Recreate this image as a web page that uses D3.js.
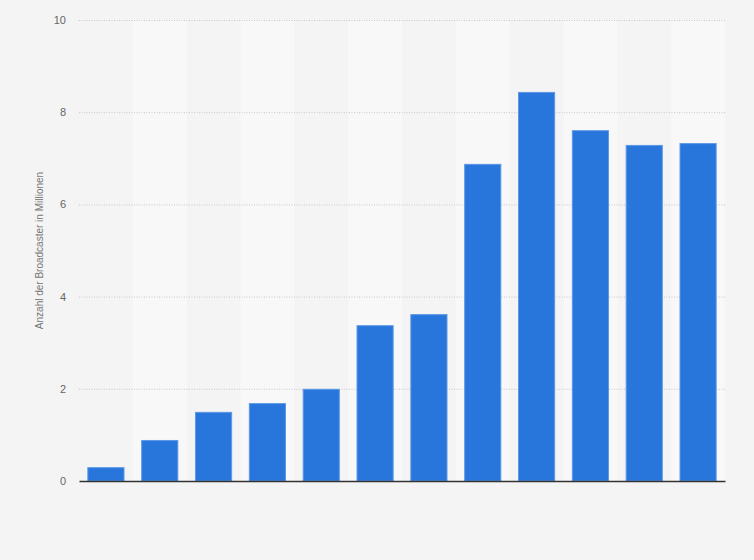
<!DOCTYPE html>
<html><head><meta charset="utf-8">
<script src="https://cdn.jsdelivr.net/npm/d3@7"></script>
<style>html,body{margin:0;padding:0;background:#f4f4f4;}svg{display:block;}</style>
</head><body>
<svg id="chart" width="754" height="560"></svg>
<script>
const categories = ["2012","2013","2014","2015","2016","2017","2018","2019","2020","2021","2022","2023"];
const values = [0.3, 0.89, 1.5, 1.69, 2.0, 3.38, 3.62, 6.88, 8.44, 7.61, 7.29, 7.33];
const yTicks = [0, 2, 4, 6, 8, 10];
const yLabel = "Anzahl der Broadcaster in Millionen";

const svg = d3.select("#chart");
const W = 754, H = 560;
const m = {left: 79, right: 29, top: 20, bottom: 79};
const iw = W - m.left - m.right, ih = H - m.top - m.bottom;

svg.append("rect").attr("width", W).attr("height", H).attr("fill", "#f4f4f4");

const x = d3.scaleBand().domain(categories).range([m.left, m.left + iw]).paddingInner(0.31).paddingOuter(0.155);
const xb = d3.scaleBand().domain(categories).range([m.left, m.left + iw]);
const y = d3.scaleLinear().domain([0, 10]).range([m.top + ih, m.top]);

// alternating band backgrounds
svg.append("g").selectAll("rect").data(categories.filter((d, i) => i % 2 === 1)).join("rect")
  .attr("x", d => xb(d)).attr("width", xb.bandwidth())
  .attr("y", m.top).attr("height", ih).attr("fill", "#f8f8f8");

// gridlines
const ga = svg.append("g").attr("transform", `translate(${m.left},0)`)
  .call(d3.axisLeft(y).tickValues(yTicks).tickSize(-iw).tickFormat(""));
ga.select(".domain").remove();
ga.selectAll("line").attr("stroke", "#c8c8c8").attr("stroke-dasharray", "1,1.5").attr("stroke-width", 1);
ga.selectAll(".tick").filter(d => d === 0).remove();

// tick labels
const gl = svg.append("g").attr("transform", `translate(${m.left - 13},0)`)
  .call(d3.axisLeft(y).tickValues(yTicks).tickSize(0).tickPadding(0));
gl.select(".domain").remove();
gl.selectAll("text").attr("fill", "#666").attr("font-family", "Arial, 'Liberation Sans', sans-serif").attr("font-size", 11).attr("text-anchor", "end");

// bars
svg.append("g").selectAll("rect").data(values).join("rect")
  .attr("x", (d, i) => x(categories[i]) + 0.5)
  .attr("width", x.bandwidth() - 1)
  .attr("y", d => y(d) + 0.5)
  .attr("height", d => y(0) - y(d) - 0.5)
  .attr("fill", "#2876dc")
  .attr("stroke", "#5d98e6").attr("stroke-width", 1);

// x axis line
svg.append("g").attr("transform", `translate(0,${y(0)})`)
  .call(d3.axisBottom(x).tickSize(0).tickFormat(""))
  .call(g => g.select(".domain").attr("stroke", "#333").attr("stroke-width", 1.5));

// y label
svg.append("text")
  .attr("transform", `translate(43,${m.top + ih / 2}) rotate(-90)`)
  .attr("text-anchor", "middle")
  .attr("fill", "#777")
  .attr("font-family", "Arial, 'Liberation Sans', sans-serif")
  .attr("font-size", 10)
  .text(yLabel);
</script>
</body></html>
